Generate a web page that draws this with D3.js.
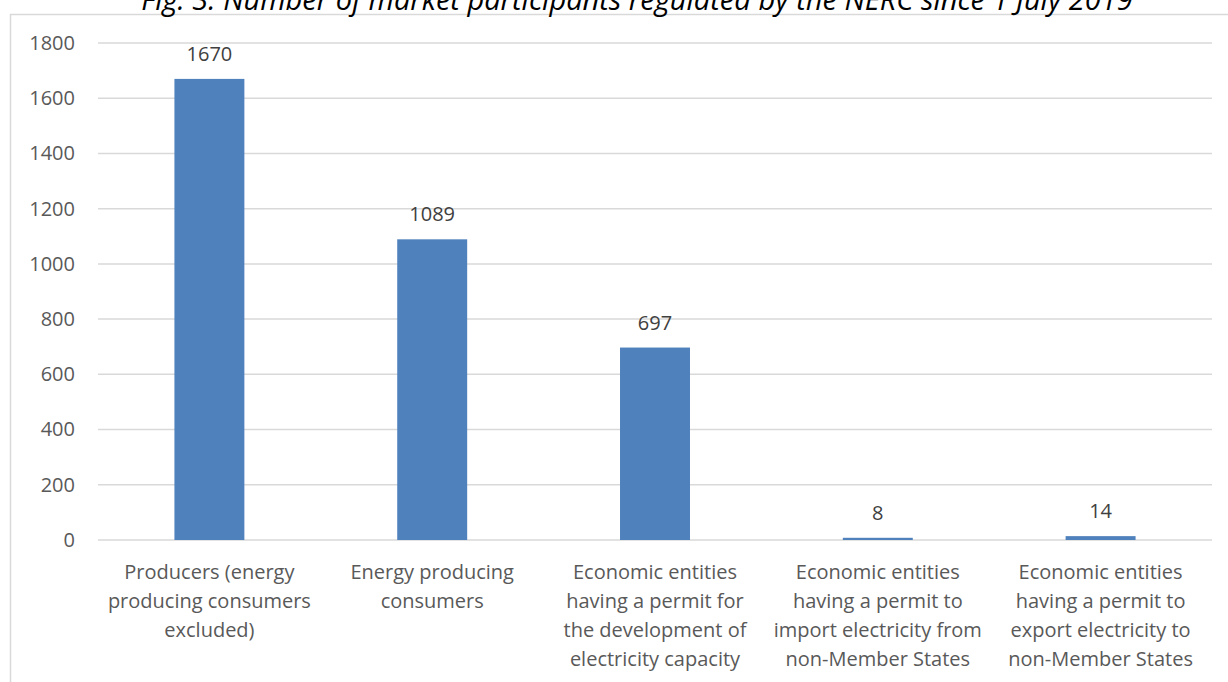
<!DOCTYPE html>
<html>
<head>
<meta charset="utf-8">
<script src="https://cdn.jsdelivr.net/npm/d3@7"></script>
<style>
  html, body { margin: 0; padding: 0; background: #fff; }
  svg { display: block; }
  text { font-family: "Open Sans", sans-serif; }
</style>
</head>
<body>
<svg id="chart" width="1228" height="682"></svg>
<script>
// Chart data
const categories = [
  ['Producers (energy', 'producing consumers', 'excluded)'],
  ['Energy producing', 'consumers'],
  ['Economic entities', 'having a permit for', 'the development of', 'electricity capacity'],
  ['Economic entities', 'having a permit to', 'import electricity from', 'non-Member States'],
  ['Economic entities', 'having a permit to', 'export electricity to', 'non-Member States']
];
const values = [1670, 1089, 697, 8, 14];
const yTicks = [0, 200, 400, 600, 800, 1000, 1200, 1400, 1600, 1800];
const title = 'Fig. 3. Number of market participants regulated by the NERC since 1 July 2019';

const svg = d3.select('#chart');
const margin = { top: 43, right: 16, bottom: 142, left: 98 };
const width = 1228 - margin.left - margin.right;
const height = 682 - margin.top - margin.bottom;
const fontSize = 20;

// Outer chart border (left and top visible)
svg.append('path')
  .attr('d', `M10.5,682 V14.5 H1228`)
  .attr('fill', 'none')
  .attr('stroke', '#d9d9d9')
  .attr('stroke-width', 1.5);

// Title, clipped by the top of the image as in the source
svg.append('text')
  .attr('x', 637)
  .attr('y', 10)
  .attr('text-anchor', 'middle')
  .attr('font-style', 'italic')
  .attr('font-size', 29)
  .attr('fill', '#000')
  .text(title);

const g = svg.append('g')
  .attr('transform', `translate(${margin.left},${margin.top})`);

const x = d3.scaleBand()
  .domain(d3.range(categories.length))
  .range([0, width])
  .paddingInner(0.686)
  .paddingOuter(0.343);

const y = d3.scaleLinear()
  .domain([0, 1800])
  .range([height, 0]);

// Gridlines
g.append('g')
  .selectAll('line')
  .data(yTicks)
  .join('line')
  .attr('x1', 0)
  .attr('x2', width)
  .attr('y1', d => y(d))
  .attr('y2', d => y(d))
  .attr('stroke', '#d9d9d9')
  .attr('stroke-width', 1.5);

// Y axis labels
const yAxis = g.append('g')
  .call(d3.axisLeft(y).tickValues(yTicks).tickFormat(d3.format('d')).tickSize(0).tickPadding(23));
yAxis.select('.domain').remove();
yAxis.selectAll('text')
  .attr('font-family', '"Open Sans", sans-serif')
  .attr('font-size', fontSize)
  .attr('fill', '#595959');

// Bars
g.append('g')
  .selectAll('rect')
  .data(values)
  .join('rect')
  .attr('x', (d, i) => x(i))
  .attr('y', d => y(d))
  .attr('width', x.bandwidth())
  .attr('height', d => height - y(d))
  .attr('fill', '#4f81bd');

// Value labels
g.append('g')
  .selectAll('text')
  .data(values)
  .join('text')
  .attr('x', (d, i) => x(i) + x.bandwidth() / 2)
  .attr('y', d => y(d) - 18)
  .attr('text-anchor', 'middle')
  .attr('font-size', fontSize)
  .attr('fill', '#404040')
  .text(d => d);

// Category labels
const catG = g.append('g')
  .attr('transform', `translate(0,${height})`);
categories.forEach((lines, i) => {
  const t = catG.append('text')
    .attr('x', x(i) + x.bandwidth() / 2)
    .attr('y', 39)
    .attr('text-anchor', 'middle')
    .attr('font-size', fontSize)
    .attr('fill', '#595959');
  lines.forEach((line, j) => {
    t.append('tspan')
      .attr('x', x(i) + x.bandwidth() / 2)
      .attr('dy', j === 0 ? 0 : 29)
      .text(line);
  });
});
</script>
</body>
</html>
